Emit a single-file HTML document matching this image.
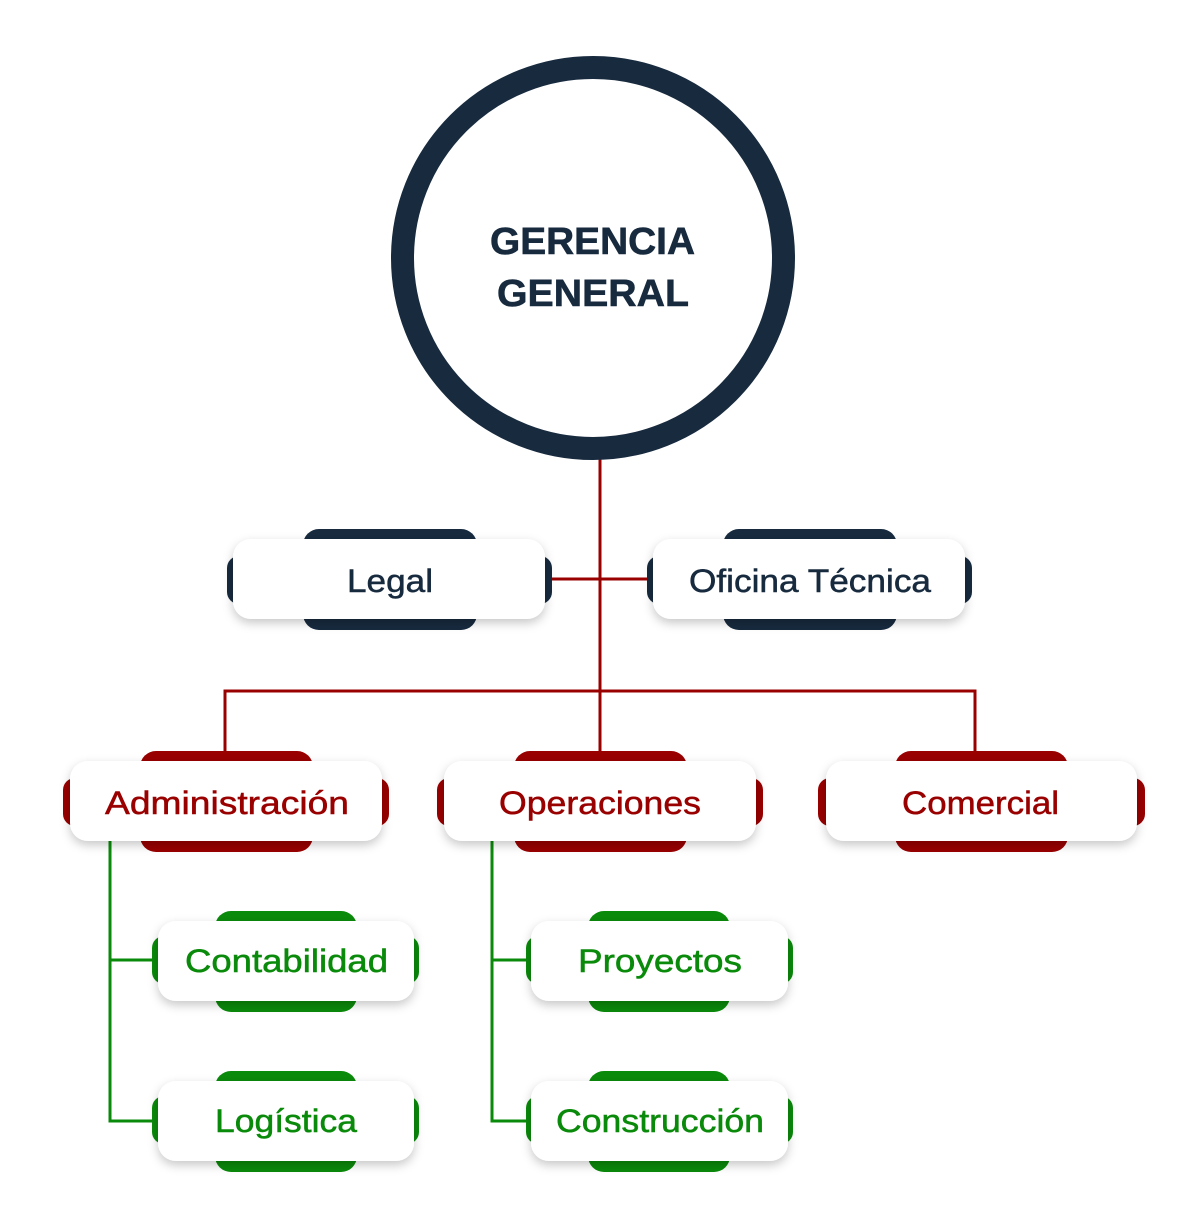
<!DOCTYPE html>
<html><head><meta charset="utf-8"><style>
html,body{margin:0;padding:0;background:#fff;}
svg{display:block;}
text{font-family:"Liberation Sans",sans-serif;}
</style></head><body>
<svg width="1200" height="1229" viewBox="0 0 1200 1229" xmlns="http://www.w3.org/2000/svg">
<defs>
<filter id="sh" x="-10%" y="-30%" width="120%" height="170%">
<feDropShadow dx="0" dy="4" stdDeviation="5" flood-color="#000" flood-opacity="0.22"/>
</filter>
</defs>
<g stroke="#990000" stroke-width="3" fill="none">
<line x1="600" y1="455" x2="600" y2="752"/>
<line x1="550" y1="579" x2="650" y2="579"/>
<polyline points="225,752 225,691 975,691 975,752"/>
</g>
<g stroke="#0a8a0a" stroke-width="3" fill="none">
<polyline points="110,841 110,1121 155,1121"/>
<line x1="110" y1="960" x2="155" y2="960"/>
<polyline points="492,841 492,1121 528,1121"/>
<line x1="492" y1="960" x2="528" y2="960"/>
</g>
<circle cx="593" cy="258" r="190.5" fill="#fff" stroke="#172a3e" stroke-width="23"/>
<text x="490" y="254" font-size="38" font-weight="bold" fill="#172a3e" textLength="205" lengthAdjust="spacingAndGlyphs" stroke="#172a3e" stroke-width="0.6">GERENCIA</text>
<text x="497" y="306" font-size="38" font-weight="bold" fill="#172a3e" textLength="192" lengthAdjust="spacingAndGlyphs" stroke="#172a3e" stroke-width="0.6">GENERAL</text>

<g fill="#172a3e">
<rect x="303" y="529" width="174" height="101" rx="16"/>
<rect x="227" y="556" width="325" height="48" rx="12"/>
<rect x="723" y="529" width="174" height="101" rx="16"/>
<rect x="647" y="556" width="325" height="48" rx="12"/>
</g>
<rect x="233" y="539" width="312" height="80" rx="18" fill="#fff" filter="url(#sh)"/>
<rect x="653" y="539" width="312" height="80" rx="18" fill="#fff" filter="url(#sh)"/>
<g font-size="32" stroke-width="0.5">
<text x="347" y="592" fill="#172a3e" stroke="#172a3e" textLength="86" lengthAdjust="spacingAndGlyphs">Legal</text>
<text x="689" y="592" fill="#172a3e" stroke="#172a3e" textLength="242" lengthAdjust="spacingAndGlyphs">Oficina Técnica</text>
</g>

<g fill="#990000">
<rect x="140" y="751" width="173" height="101" rx="16"/>
<rect x="63" y="778" width="326" height="48" rx="12"/>
<rect x="514" y="751" width="173" height="101" rx="16"/>
<rect x="437" y="778" width="326" height="48" rx="12"/>
<rect x="895" y="751" width="173" height="101" rx="16"/>
<rect x="818" y="778" width="327" height="48" rx="12"/>
</g>
<rect x="70" y="761" width="312" height="80" rx="18" fill="#fff" filter="url(#sh)"/>
<rect x="444" y="761" width="312" height="80" rx="18" fill="#fff" filter="url(#sh)"/>
<rect x="826" y="761" width="311" height="80" rx="18" fill="#fff" filter="url(#sh)"/>
<g font-size="32" fill="#990000" stroke="#990000" stroke-width="0.5">
<text x="105" y="814" textLength="244" lengthAdjust="spacingAndGlyphs">Administración</text>
<text x="499" y="814" textLength="202" lengthAdjust="spacingAndGlyphs">Operaciones</text>
<text x="902" y="814" textLength="157" lengthAdjust="spacingAndGlyphs">Comercial</text>
</g>

<g fill="#0a8a0a">
<rect x="215" y="911" width="142" height="101" rx="16"/>
<rect x="152" y="936" width="267" height="48" rx="12"/>
<rect x="215" y="1071" width="142" height="101" rx="16"/>
<rect x="152" y="1096" width="267" height="48" rx="12"/>
<rect x="588" y="911" width="142" height="101" rx="16"/>
<rect x="526" y="936" width="267" height="48" rx="12"/>
<rect x="588" y="1071" width="142" height="101" rx="16"/>
<rect x="526" y="1096" width="267" height="48" rx="12"/>
</g>
<rect x="158" y="921" width="256" height="80" rx="18" fill="#fff" filter="url(#sh)"/>
<rect x="158" y="1081" width="256" height="80" rx="18" fill="#fff" filter="url(#sh)"/>
<rect x="531" y="921" width="257" height="80" rx="18" fill="#fff" filter="url(#sh)"/>
<rect x="531" y="1081" width="257" height="80" rx="18" fill="#fff" filter="url(#sh)"/>
<g font-size="32" fill="#0a8a0a" stroke="#0a8a0a" stroke-width="0.5">
<text x="185" y="972" textLength="203" lengthAdjust="spacingAndGlyphs">Contabilidad</text>
<text x="215" y="1132" textLength="142" lengthAdjust="spacingAndGlyphs">Logística</text>
<text x="578" y="972" textLength="164" lengthAdjust="spacingAndGlyphs">Proyectos</text>
<text x="556" y="1132" textLength="208" lengthAdjust="spacingAndGlyphs">Construcción</text>
</g>
</svg>
</body></html>
